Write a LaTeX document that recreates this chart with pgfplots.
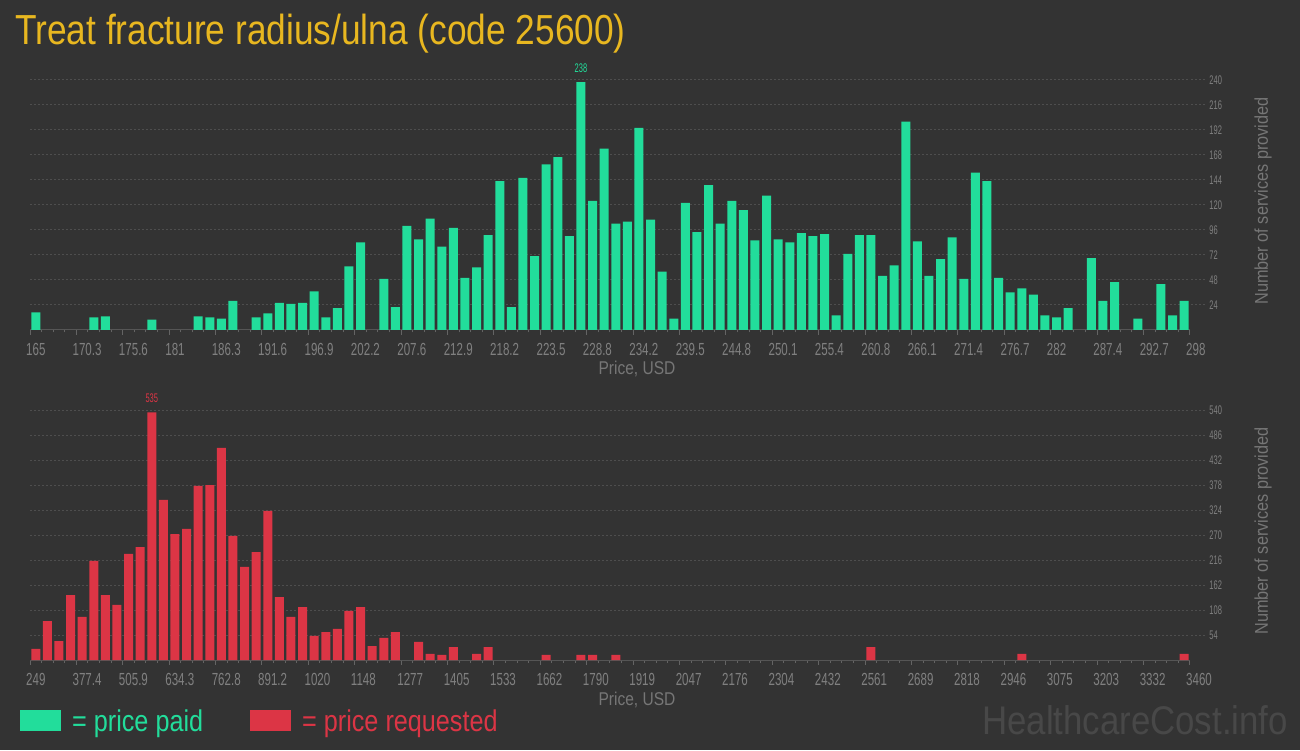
\documentclass[border=0pt]{standalone}
\usepackage{pgfplots}
\usepackage{pgfplotstable}
\pgfplotsset{compat=1.18}
\usepackage{fontspec}
\setmainfont{Liberation Sans}
\newfontfamily\titlefont{Liberation Sans}[FakeStretch=0.84]
\newfontfamily\labfont{Liberation Sans}[FakeStretch=0.84]
\newfontfamily\ylabfont{Liberation Sans}[FakeStretch=0.88]
\newfontfamily\markfont{Liberation Sans}[FakeStretch=0.87]
\newfontfamily\tickfont{Liberation Sans}[FakeStretch=0.66]
\newfontfamily\smallfont{Liberation Sans}[FakeStretch=0.6]

\definecolor{bg}{RGB}{51,51,51}
\definecolor{paid}{RGB}{34,221,155}
\definecolor{asked}{RGB}{220,53,69}
\definecolor{titlecol}{RGB}{232,183,32}
\definecolor{gridgray}{RGB}{78,78,78}
\definecolor{axisgray}{RGB}{85,85,85}
\definecolor{tickgray}{RGB}{100,100,100}
\definecolor{ticktext}{RGB}{128,128,128}
\definecolor{labtext}{RGB}{118,118,118}
\definecolor{marktext}{RGB}{72,72,72}

% bin index (100 equal bins), number of services
\pgfplotstableread{
bin count
0 17
5 12
6 13
10 10
14 13
15 12
16 11
17 28
19 12
20 16
21 26
22 25
23 26
24 37
25 12
26 21
27 61
28 84
30 49
31 22
32 100
33 87
34 107
35 80
36 98
37 50
38 60
39 91
40 143
41 22
42 146
43 71
44 159
45 166
46 90
47 238
48 124
49 174
50 102
51 104
52 194
53 106
54 56
55 11
56 122
57 94
58 139
59 102
60 124
61 115
62 86
63 129
64 87
65 84
66 93
67 90
68 92
69 14
70 73
71 91
72 91
73 52
74 62
75 200
76 85
77 52
78 68
79 89
80 49
81 151
82 143
83 50
84 36
85 40
86 34
87 14
88 12
89 21
91 69
92 28
93 46
95 11
97 44
98 14
99 28
}\paidtable

\pgfplotstableread{
bin count
0 24
1 84
2 41
3 140
4 93
5 214
6 140
7 119
8 229
9 244
10 535
11 346
12 272
13 283
14 376
15 378
16 458
17 268
18 201
19 233
20 322
21 136
22 93
23 114
24 52
25 60
26 67
27 106
28 114
29 30
30 48
31 60
33 39
34 13
35 11
36 28
38 13
39 28
44 11
47 11
48 11
50 11
72 28
85 13
99 13
}\askedtable

\pgfplotsset{
  hcaxis/.style={
    scale only axis, width=1160pt, height=250pt,
    xmin=-0.5, xmax=99.5, ymin=0,
    clip=false,
    axis x line*=bottom, axis y line*=right,
    x axis line style={draw=axisgray, line width=1pt, -},
    y axis line style={draw=none},
    xtick={-0.5,3.5,...,99.5},
    minor x tick num=3,
    tick align=outside,
    xtick style={draw=tickgray, line width=1pt,
      /pgfplots/major tick length=5pt, /pgfplots/minor tick length=2.5pt},
    ytick style={draw=gridgray, line width=1pt, dash pattern=on 2pt off 2pt,
      /pgfplots/major tick length=15pt},
    ymajorgrids,
    grid style={draw=gridgray, line width=1pt, dash pattern=on 2pt off 2pt},
    xticklabel style={font=\tickfont\fontsize{17.5}{18}\selectfont, text=ticktext,
      anchor=north west, inner sep=0pt, xshift=-4pt, yshift=-9pt},
    yticklabel style={font=\smallfont\fontsize{12.5}{13}\selectfont, text=ticktext,
      anchor=west, inner sep=0pt, xshift=15pt},
    /pgf/number format/assume math mode=true,
    ybar, bar width=9pt,
  }
}

\begin{document}
\begin{tikzpicture}
\fill[bg] (0,0) rectangle (1300pt,750pt);

\node[anchor=base west, inner sep=0pt, text=titlecol, font=\titlefont\fontsize{42}{48}\selectfont]
  at (15pt,705pt) {Treat fracture radius/ulna (code 25600)};

% price paid
\begin{axis}[hcaxis, at={(30pt,420pt)}, anchor=south west,
  ymax=240, ytick={24,48,...,240},
  xticklabels={165,170.3,175.6,181,186.3,191.6,196.9,202.2,207.6,212.9,218.2,223.5,228.8,234.2,239.5,244.8,250.1,255.4,260.8,266.1,271.4,276.7,282,287.4,292.7,298}]
  \addplot[fill=paid, draw=none] table[x=bin, y=count] {\paidtable};
  \node[anchor=south, inner sep=0pt, yshift=9pt, text=paid, font=\smallfont\fontsize{12.5}{13}\selectfont]
    at (axis cs:47,238) {238};
\end{axis}

% price requested
\begin{axis}[hcaxis, at={(30pt,90pt)}, anchor=south west,
  ymax=540, ytick={54,108,...,540},
  xticklabels={249,377.4,505.9,634.3,762.8,891.2,1020,1148,1277,1405,1533,1662,1790,1919,2047,2176,2304,2432,2561,2689,2818,2946,3075,3203,3332,3460}]
  \addplot[fill=asked, draw=none] table[x=bin, y=count] {\askedtable};
  \node[anchor=south, inner sep=0pt, yshift=9pt, text=asked, font=\smallfont\fontsize{12.5}{13}\selectfont]
    at (axis cs:10,535) {535};
\end{axis}

% axis titles
\begin{scope}[every node/.style={inner sep=0pt, text=labtext, font=\labfont\fontsize{18.5}{20}\selectfont}]
  \node[anchor=base] at (637pt,375pt) {Price, USD};
  \node[anchor=base] at (637pt,45pt) {Price, USD};
  \node[rotate=90, font=\ylabfont\fontsize{18.5}{20}\selectfont] at (1263pt,549pt) {Number of services provided};
  \node[rotate=90, font=\ylabfont\fontsize{18.5}{20}\selectfont] at (1263pt,219pt) {Number of services provided};
\end{scope}

% legend
\fill[paid] (20pt,19pt) rectangle (61pt,40pt);
\node[anchor=base west, inner sep=0pt, text=paid, font=\labfont\fontsize{30}{32}\selectfont]
  at (72pt,19pt) {= price paid};
\fill[asked] (250pt,19pt) rectangle (291pt,40pt);
\node[anchor=base west, inner sep=0pt, text=asked, font=\labfont\fontsize{30}{32}\selectfont]
  at (302pt,19pt) {= price requested};

% watermark
\node[anchor=base west, inner sep=0pt, text=marktext, font=\markfont\fontsize{40}{44}\selectfont]
  at (982pt,16pt) {HealthcareCost.info};

\pgfresetboundingbox
\path[use as bounding box] (0,0) rectangle (1300pt,750pt);
\end{tikzpicture}
\end{document}
